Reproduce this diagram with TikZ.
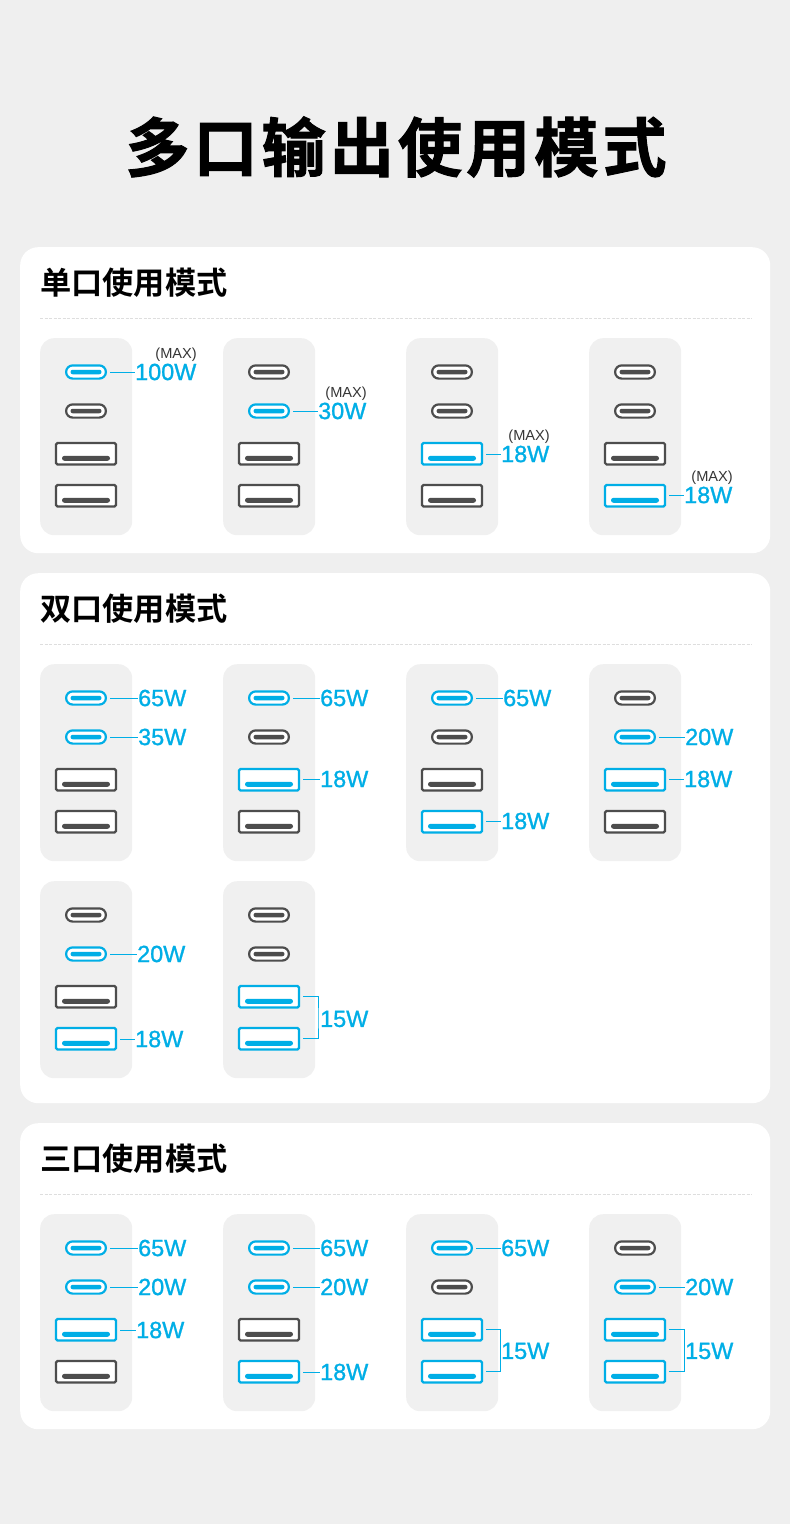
\documentclass[tikz,border=0pt]{standalone}
\usepackage{fontspec}
\setmainfont{Liberation Sans}
\newfontfamily\valfont[FakeBold=1.1]{Liberation Sans}
\newfontfamily\titlefont[LetterSpace=6.5,FakeBold=1.6]{Noto Sans CJK SC Bold}
\newfontfamily\headfont{Noto Sans CJK SC Bold}
\definecolor{bgc}{HTML}{EFEFEF}
\definecolor{panelc}{HTML}{F0F0F0}
\definecolor{on}{HTML}{00AEE6}
\definecolor{off}{HTML}{4D4D4D}
\definecolor{rulec}{HTML}{DEDEDE}
\tikzset{
  card/.style={fill=white,rounded corners=18pt,draw=none},
  tray/.style={fill=panelc,rounded corners=14pt,draw=none,minimum width=92pt,minimum height=197pt,inner sep=0pt,anchor=north west},
  cport/.style={draw=#1,fill=white,line width=2.2pt,rounded corners=6.6pt,minimum width=39.8pt,minimum height=13.2pt,inner sep=0pt},
  aport/.style={draw=#1,fill=white,line width=2.2pt,rounded corners=1.5pt,minimum width=60pt,minimum height=21.5pt,inner sep=0pt},
  cbar/.style={fill=#1,rounded corners=2.2pt,minimum width=31pt,minimum height=4.5pt,inner sep=0pt},
  abar/.style={fill=#1,rounded corners=2.4pt,minimum width=48pt,minimum height=4.9pt,inner sep=0pt},
  val/.style={text=on,anchor=west,inner sep=0pt,font=\valfont\fontsize{23.4}{24}\selectfont},
  maxl/.style={text=off!70!black,anchor=east,inner sep=0pt,font=\fontsize{14.6}{15}\selectfont},
  leader/.style={draw=on,line width=1pt,shorten <=3pt,shorten >=0.5pt},
  brace/.style={draw=on,line width=1pt,shorten <=3pt,shorten >=3pt},
  sep/.style={draw=rulec,line width=1pt,dash pattern=on 3pt off 1.5pt},
  head/.style={anchor=west,inner sep=0pt,font=\headfont\fontsize{31.2}{32}\selectfont,text=black},
}
% name, x, y, colours of the four ports
\newcommand{\usbtray}[7]{%
  \node[tray] (#1) at (#2,#3) {};
  \node[cport=#4] (#1c1) at (#2+46,#3+34) {};
  \node[cbar=#4] (#1c1b) at (#2+46,#3+34) {};
  \node[cport=#5] (#1c2) at (#2+46,#3+73) {};
  \node[cbar=#5] (#1c2b) at (#2+46,#3+73) {};
  \node[aport=#6] (#1a1) at (#2+46,#3+115.7) {};
  \node[abar=#6] (#1a1b) at (#2+46,#3+120.3) {};
  \node[aport=#7] (#1a2) at (#2+46,#3+157.7) {};
  \node[abar=#7] (#1a2b) at (#2+46,#3+162.3) {};
}
% port, label x, label y, text
\newcommand{\watt}[4]{%
  \node[val] (#1v) at (#2,#3) {#4};
  \draw[leader] (#1.east |- #1v.west) -- (#1v.west);
}
% first port, second port, bracket x, text x, text y, text
\newcommand{\pair}[6]{%
  \node[val] (#1v) at (#4,#5) {#6};
  \coordinate (#1k) at (#3,#5);
  \draw[brace] (#1.east) -| (#1k) |- (#2.east);
}
\begin{document}
\begin{tikzpicture}[x=1pt,y=-1pt]
\useasboundingbox (0,0) rectangle (790,1530);
\fill[white] (0,0) rectangle (790,1530);
\fill[bgc] (0,0) rectangle (790,1524);
\node[inner sep=0pt,text=black,font=\titlefont\fontsize{64}{66}\selectfont] (title) at (396,147) {多口输出使用模式};

% cards
\node[card,minimum width=750pt,minimum height=306pt,inner sep=0pt,anchor=north west] (card1) at (20,247) {};
\node[card,minimum width=750pt,minimum height=530pt,inner sep=0pt,anchor=north west] (card2) at (20,573) {};
\node[card,minimum width=750pt,minimum height=306pt,inner sep=0pt,anchor=north west] (card3) at (20,1123) {};
\node[head] (h1) at (40,283) {单口使用模式};
\node[head] (h2) at (40,609) {双口使用模式};
\node[head] (h3) at (40,1159) {三口使用模式};
\coordinate (s1a) at (40,318); \coordinate (s1b) at (752,318);
\coordinate (s2a) at (40,644); \coordinate (s2b) at (752,644);
\coordinate (s3a) at (40,1194); \coordinate (s3b) at (752,1194);
\draw[sep] (s1a) -- (s1b);
\draw[sep] (s2a) -- (s2b);
\draw[sep] (s3a) -- (s3b);

% single port
\usbtray{a}{40}{338}{on}{off}{off}{off}
\usbtray{b}{223}{338}{off}{on}{off}{off}
\usbtray{c}{406}{338}{off}{off}{on}{off}
\usbtray{d}{589}{338}{off}{off}{off}{on}
\watt{ac1}{135}{372}{100W}
\watt{bc2}{318}{411}{30W}
\watt{ca1}{501}{454}{18W}
\watt{da2}{684}{495}{18W}
\node[maxl] (am) at (197,354.5) {(MAX)};
\node[maxl] (bm) at (367,393.5) {(MAX)};
\node[maxl] (cm) at (550,436.5) {(MAX)};
\node[maxl] (dm) at (733,477.5) {(MAX)};

% dual port
\usbtray{e}{40}{664}{on}{on}{off}{off}
\usbtray{f}{223}{664}{on}{off}{on}{off}
\usbtray{g}{406}{664}{on}{off}{off}{on}
\usbtray{h}{589}{664}{off}{on}{on}{off}
\usbtray{i}{40}{881}{off}{on}{off}{on}
\usbtray{j}{223}{881}{off}{off}{on}{on}
\watt{ec1}{138}{698}{65W}
\watt{ec2}{138}{737}{35W}
\watt{fc1}{320}{698}{65W}
\watt{fa1}{320}{779}{18W}
\watt{gc1}{503}{698}{65W}
\watt{ga2}{501}{821}{18W}
\watt{hc2}{685}{737}{20W}
\watt{ha1}{684}{779}{18W}
\watt{ic2}{137}{954}{20W}
\watt{ia2}{135}{1039}{18W}
\pair{ja1}{ja2}{318}{320}{1019}{15W}

% triple port
\usbtray{k}{40}{1214}{on}{on}{on}{off}
\usbtray{l}{223}{1214}{on}{on}{off}{on}
\usbtray{m}{406}{1214}{on}{off}{on}{on}
\usbtray{n}{589}{1214}{off}{on}{on}{on}
\watt{kc1}{138}{1248}{65W}
\watt{kc2}{138}{1287}{20W}
\watt{ka1}{136}{1330}{18W}
\watt{lc1}{320}{1248}{65W}
\watt{lc2}{320}{1287}{20W}
\watt{la2}{320}{1372}{18W}
\watt{mc1}{501}{1248}{65W}
\pair{ma1}{ma2}{500.5}{501}{1351}{15W}
\watt{nc2}{685}{1287}{20W}
\pair{na1}{na2}{684}{685}{1351}{15W}
\end{tikzpicture}
\end{document}
